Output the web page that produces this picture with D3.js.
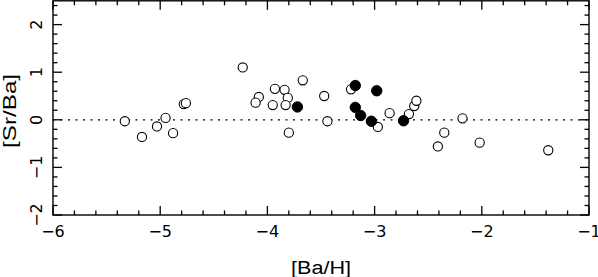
<!DOCTYPE html>
<html>
<head>
<meta charset="utf-8">
<script src="https://cdn.jsdelivr.net/npm/d3@7"></script>
<style>
  body { margin: 0; background: #fff; }
  svg { display: block; font-family: "Liberation Sans", Arial, sans-serif; }
</style>
</head>
<body>
<div id="chart"></div>
<script>
// open circles
const openBaH = [-5.33, -5.17, -5.03, -4.95, -4.88, -4.78, -4.76,
  -4.23, -3.67, -3.93, -3.84, -4.08, -4.11, -3.81, -3.95, -3.83, -3.47, -3.44, -3.80,
  -3.22, -2.97, -2.86, -2.68, -2.63, -2.61,
  -2.18, -2.35, -2.41, -2.02, -1.38];
const openSrBa = [-0.03, -0.36, -0.14, 0.04, -0.28, 0.33, 0.35,
  1.10, 0.83, 0.65, 0.63, 0.48, 0.36, 0.46, 0.31, 0.31, 0.50, -0.03, -0.27,
  0.64, -0.15, 0.14, 0.12, 0.29, 0.40,
  0.03, -0.27, -0.56, -0.48, -0.64];
// filled circles
const filledBaH = [-3.72, -3.18, -2.98, -3.18, -3.13, -3.03, -2.73];
const filledSrBa = [0.27, 0.72, 0.61, 0.26, 0.09, -0.03, -0.02];

const xTicks = [-6, -5, -4, -3, -2, -1];
const yTicks = [-2, -1, 0, 1, 2];

const W = 598, H = 277;
const margin = { left: 53, right: 9, top: 2, bottom: 62 };

const x = d3.scaleLinear().domain([-6, -1]).range([margin.left, W - margin.right]);
const y = d3.scaleLinear().domain([-2, 2.5]).range([H - margin.bottom, H - margin.bottom - 4.5 * 47.6]);

const svg = d3.select("#chart").append("svg").attr("width", W).attr("height", H);

const x0 = x(-6), x1 = x(-1), y0 = y(-2), y1 = y(2.5);

// zero line
svg.append("line")
  .attr("x1", x0).attr("x2", x1).attr("y1", y(0)).attr("y2", y(0))
  .attr("stroke", "#000").attr("stroke-width", 1.3)
  .attr("stroke-dasharray", "2,5.5");

// frame
svg.append("rect")
  .attr("x", x0).attr("y", y1).attr("width", x1 - x0).attr("height", y0 - y1)
  .attr("fill", "none").attr("stroke", "#000").attr("stroke-width", 1.4);

// ticks (inward, all sides)
const xMinor = d3.range(-6, -0.99, 0.2);
const yMinor = d3.range(-2, 2.51, 0.2);
const tk = svg.append("g").attr("stroke", "#000").attr("stroke-width", 1.3);
xMinor.forEach(v => {
  const major = Math.abs(v - Math.round(v)) < 1e-6;
  const L = major ? 9 : 4.5;
  tk.append("line").attr("x1", x(v)).attr("x2", x(v)).attr("y1", y0).attr("y2", y0 - L);
  tk.append("line").attr("x1", x(v)).attr("x2", x(v)).attr("y1", y1).attr("y2", y1 + L);
});
yMinor.forEach(v => {
  const major = Math.abs(v - Math.round(v)) < 1e-6;
  const L = major ? 9 : 4.5;
  tk.append("line").attr("y1", y(v)).attr("y2", y(v)).attr("x1", x0).attr("x2", x0 + L);
  tk.append("line").attr("y1", y(v)).attr("y2", y(v)).attr("x1", x1).attr("x2", x1 - L);
});

const fmt = v => (v < 0 ? "\u2212" + Math.abs(v) : String(v));

svg.append("g").selectAll("text").data(xTicks).join("text")
  .attr("x", d => x(d)).attr("y", y0 + 22)
  .attr("text-anchor", "middle").attr("font-size", 16)
  .attr("font-family", "'DejaVu Sans', sans-serif")
  .text(fmt);

svg.append("g").selectAll("text").data(yTicks).join("text")
  .attr("transform", d => `translate(${x0 - 11},${y(d)}) rotate(-90)`)
  .attr("text-anchor", "middle").attr("font-size", 16)
  .attr("font-family", "'DejaVu Sans', sans-serif")
  .text(fmt);

svg.append("text")
  .attr("x", (x0 + x1) / 2).attr("y", H - 3)
  .attr("text-anchor", "middle").attr("font-size", 18)
  .attr("textLength", 60).attr("lengthAdjust", "spacingAndGlyphs")
  .text("[Ba/H]");

svg.append("text")
  .attr("transform", `translate(16,${(y0 + y1) / 2 + 3}) rotate(-90)`)
  .attr("text-anchor", "middle").attr("font-size", 18)
  .attr("textLength", 74).attr("lengthAdjust", "spacingAndGlyphs")
  .text("[Sr/Ba]");

// points
const r = 4.6;
svg.append("g").selectAll("circle").data(d3.range(openBaH.length)).join("circle")
  .attr("cx", i => x(openBaH[i])).attr("cy", i => y(openSrBa[i])).attr("r", r)
  .attr("fill", "#fff").attr("stroke", "#000").attr("stroke-width", 1.1);

svg.append("g").selectAll("circle").data(d3.range(filledBaH.length)).join("circle")
  .attr("cx", i => x(filledBaH[i])).attr("cy", i => y(filledSrBa[i])).attr("r", r + 0.6)
  .attr("fill", "#000").attr("stroke", "#000").attr("stroke-width", 1);
</script>
</body>
</html>
